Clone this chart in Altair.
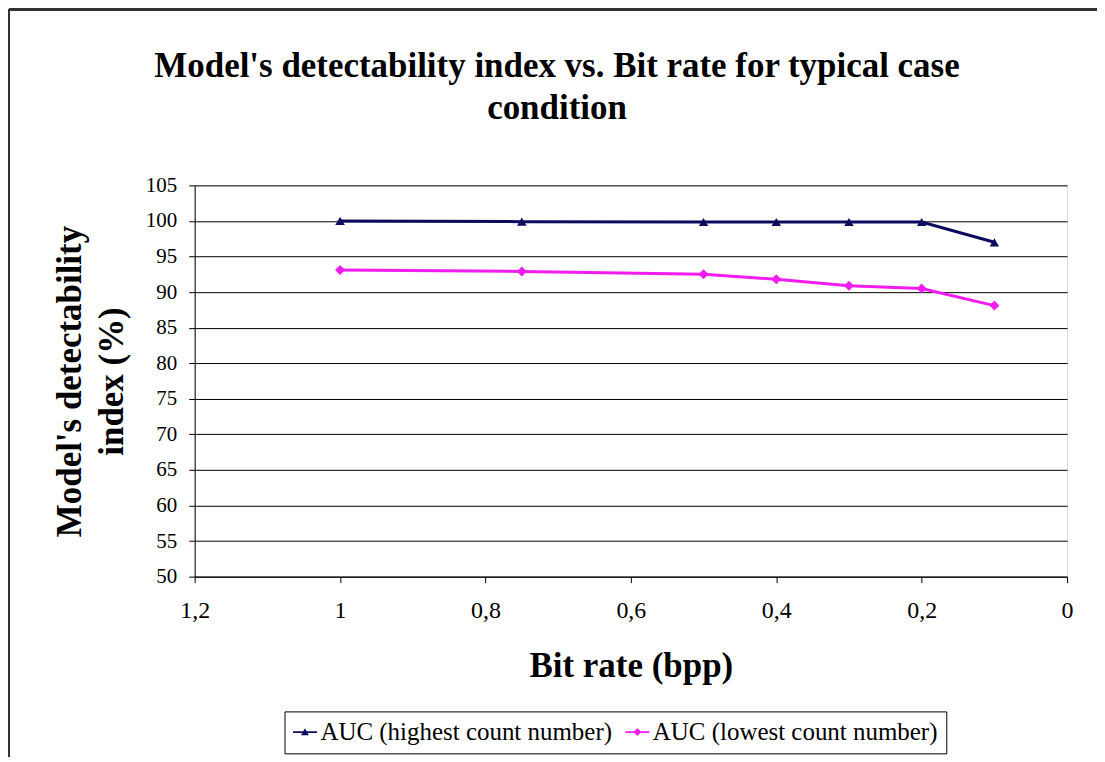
import altair as alt
import pandas as pd

bit_rate = [1.0, 0.75, 0.5, 0.4, 0.3, 0.2, 0.1]
auc_high = [100.0, 99.9, 99.85, 99.85, 99.85, 99.85, 97.0]
auc_low = [93.1, 92.9, 92.5, 91.8, 90.9, 90.5, 88.1]
series_names = ["AUC (highest count number)", "AUC (lowest count number)"]
x_ticks = [1.2, 1.0, 0.8, 0.6, 0.4, 0.2, 0.0]
y_ticks = [50, 55, 60, 65, 70, 75, 80, 85, 90, 95, 100, 105]

rows = []
for b, v in zip(bit_rate, auc_high):
    rows.append({"bpp": b, "value": v, "series": series_names[0]})
for b, v in zip(bit_rate, auc_low):
    rows.append({"bpp": b, "value": v, "series": series_names[1]})
df = pd.DataFrame(rows)

colors = ["#0b0b5e", "#f01cf0"]
FONT = "Liberation Serif"

tri_path = "M-1,-0.08L1,-0.08L1,0.08L-1,0.08Z M-0.33,0.26L0,-0.33L0.33,0.26Z"
dia_path = "M-1,-0.08L1,-0.08L1,0.08L-1,0.08Z M-0.33,0L0,-0.33L0.33,0L0,0.33Z"

x_enc = alt.X(
    "bpp:Q",
    scale=alt.Scale(domain=[0, 1.2], reverse=True, nice=False),
    axis=alt.Axis(
        values=x_ticks,
        labelExpr="replace(format(datum.value, '.1~f'), '.', ',')",
        title="Bit rate (bpp)",
        grid=False,
        domainColor="#000000",
        tickColor="#000000",
        tickSize=6,
        labelFontSize=24,
        labelFont=FONT,
        labelColor="#000000",
        labelPadding=16,
        labelFlush=False,
        labelOverlap=False,
        titleFontSize=35,
        titleFont=FONT,
        titleFontWeight="bold",
        titleColor="#000000",
        titlePadding=26,
    ),
)
y_enc = alt.Y(
    "value:Q",
    scale=alt.Scale(domain=[50, 105], nice=False, zero=False),
    axis=alt.Axis(
        values=y_ticks,
        title=["Model's detectability", "index (%)"],
        grid=True,
        gridColor="#000000",
        gridWidth=1,
        domainColor="#000000",
        tickColor="#000000",
        tickSize=6,
        labelFontSize=21,
        labelFont=FONT,
        labelColor="#000000",
        labelPadding=12,
        labelFlush=False,
        labelOverlap=False,
        titleFontSize=35,
        titleFont=FONT,
        titleFontWeight="bold",
        titleColor="#000000",
        titlePadding=16,
        titleLineHeight=42,
    ),
)

color_scale = alt.Scale(domain=series_names, range=colors)
legend_props = dict(
    title=None,
    orient="none",
    legendX=90,
    legendY=527,
    direction="horizontal",
    labelFont=FONT,
    labelFontSize=25,
    labelColor="#000000",
    labelLimit=500,
    symbolSize=576,
    symbolStrokeWidth=0,
    columnPadding=12,
    padding=8,
    strokeColor="#000000",
    labelOffset=3,
)

base = alt.Chart(df)
lines = base.mark_line(strokeWidth=3).encode(
    x=x_enc, y=y_enc, color=alt.Color("series:N", scale=color_scale, legend=alt.Legend(**legend_props))
)
tri = base.transform_filter(alt.datum.series == series_names[0]).mark_point(
    filled=True, size=90, opacity=1, shape="triangle-up", color=colors[0]
).encode(x=x_enc, y=y_enc)
dia = base.transform_filter(alt.datum.series == series_names[1]).mark_point(
    filled=True, size=100, opacity=1, shape="diamond", color=colors[1]
).encode(x=x_enc, y=y_enc)
legend_layer = base.transform_filter("false").mark_point(filled=True, opacity=1).encode(
    x=x_enc,
    y=y_enc,
    color=alt.Color("series:N", scale=color_scale, legend=alt.Legend(**legend_props)),
    shape=alt.Shape(
        "series:N",
        scale=alt.Scale(domain=series_names, range=[tri_path, dia_path]),
        legend=alt.Legend(**legend_props),
    ),
)

frame_top = alt.Chart(df).mark_rule(color="#333333", strokeWidth=2).encode(
    x=alt.value(-186), x2=alt.value(1000), y=alt.value(-176)
)
frame_left = alt.Chart(df).mark_rule(color="#333333", strokeWidth=2).encode(
    x=alt.value(-186), y=alt.value(-176), y2=alt.value(600)
)

chart = (
    alt.layer(lines, tri, dia, legend_layer, frame_top, frame_left)
    .properties(
        width=874,
        height=392,
        autosize=alt.AutoSizeParams(type="none"),
        padding={"left": 187, "top": 177, "right": 30, "bottom": 180},
        title=alt.TitleParams(
            text=["Model's detectability index vs. Bit rate for typical case", "condition"],
            font=FONT,
            fontSize=35,
            fontWeight="bold",
            color="#000000",
            anchor="middle",
            frame="group",
            dx=-74,
            lineHeight=43,
            offset=-118,
        ),
    )
    .configure_view(stroke="#8c8c8c", strokeWidth=1)
    .configure(background="#ffffff")
)

chart.save("out.html", embed_options={"renderer": "svg", "actions": False})
